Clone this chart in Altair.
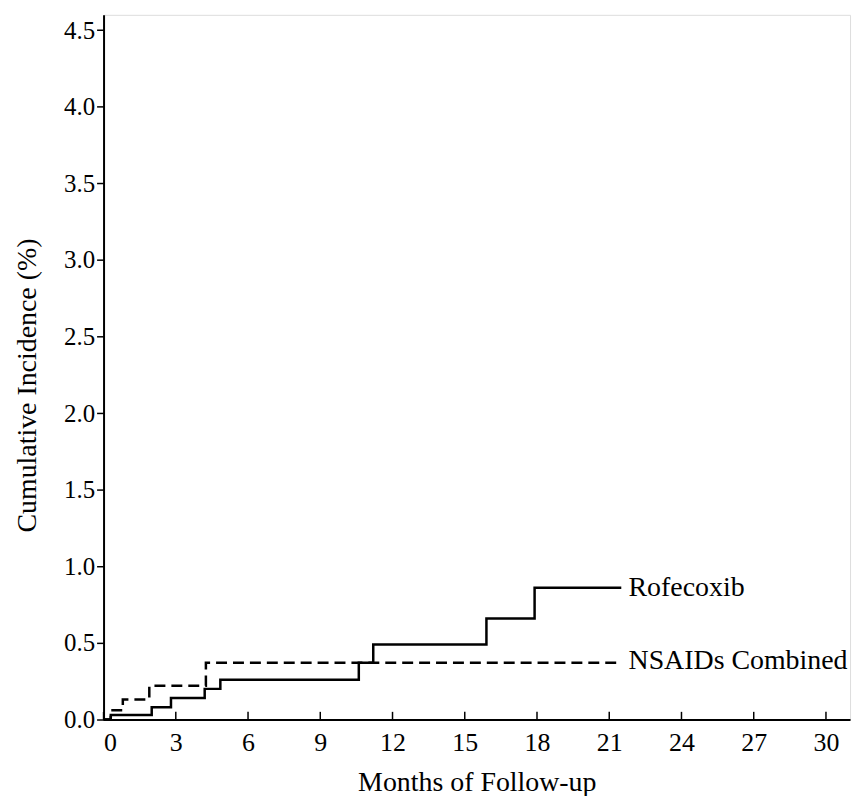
import altair as alt
import pandas as pd

# Data
rofe_months = [0, 0.3, 2.0, 2.8, 4.2, 4.85, 10.6, 11.2, 15.9, 17.9, 21.5]
rofe_inc = [0.0, 0.03, 0.08, 0.14, 0.20, 0.26, 0.37, 0.49, 0.66, 0.86, 0.86]
nsaid_months = [0, 0.3, 0.8, 1.9, 4.25, 21.5]
nsaid_inc = [0.0, 0.06, 0.13, 0.22, 0.37, 0.37]
x_ticks = [0, 3, 6, 9, 12, 15, 18, 21, 24, 27, 30]
y_ticks = [0.0, 0.5, 1.0, 1.5, 2.0, 2.5, 3.0, 3.5, 4.0, 4.5]
label_text = ["Rofecoxib", "NSAIDs Combined"]
label_y = [0.86, 0.38]
label_x = [21.8, 21.8]

FONT = "Liberation Serif"

rofe = pd.DataFrame({"m": rofe_months, "v": rofe_inc})
nsaid = pd.DataFrame({"m": nsaid_months, "v": nsaid_inc})
labels = pd.DataFrame({"m": label_x, "v": label_y, "t": label_text})
xt = pd.DataFrame({"m": x_ticks, "v0": [0.0] * len(x_ticks), "v1": [0.05] * len(x_ticks)})

xs = alt.Scale(domain=[0, 31], nice=False, zero=False)
ys = alt.Scale(domain=[0, 4.6], nice=False)

x_axis = alt.Axis(values=x_ticks, title="Months of Follow-up", grid=False, ticks=False,
                  labelFontSize=26, titleFontSize=28, labelFont=FONT, titleFont=FONT,
                  titleFontWeight="normal", labelColor="black", titleColor="black",
                  domainColor="black", domainWidth=2, labelPadding=10, titlePadding=13)
y_axis = alt.Axis(values=y_ticks, format=".1f", title="Cumulative Incidence (%)", grid=False,
                  tickSize=7, tickColor="black", tickWidth=1.5,
                  labelFontSize=25, titleFontSize=28, labelFont=FONT, titleFont=FONT,
                  titleFontWeight="normal", labelColor="black", titleColor="black",
                  domainColor="black", domainWidth=2, labelPadding=2, titlePadding=22,
                  titleY=372)

rofe_line = alt.Chart(rofe).mark_line(interpolate="step-after", color="black", strokeWidth=2.5).encode(
    x=alt.X("m:Q", scale=xs, axis=x_axis),
    y=alt.Y("v:Q", scale=ys, axis=y_axis),
)
nsaid_line = alt.Chart(nsaid).mark_line(interpolate="step-after", color="black", strokeWidth=2.5,
                                        strokeDash=[11, 6]).encode(
    x=alt.X("m:Q", scale=xs),
    y=alt.Y("v:Q", scale=ys),
)
ticks = alt.Chart(xt).mark_rule(color="black", strokeWidth=1.5).encode(
    x=alt.X("m:Q", scale=xs),
    y=alt.Y("v0:Q", scale=ys),
    y2="v1:Q",
)
text = alt.Chart(labels).mark_text(align="left", baseline="middle", font=FONT, fontSize=28,
                                   color="black").encode(
    x=alt.X("m:Q", scale=xs),
    y=alt.Y("v:Q", scale=ys),
    text="t:N",
)

chart = (rofe_line + nsaid_line + ticks + text).properties(
    width=750, height=708,
    autosize=alt.AutoSizeParams(type="none"),
    padding={"left": 96, "top": 5, "right": 10, "bottom": 75},
).configure_view(stroke=None).configure(background="white")

chart.save("out.html", embed_options={"renderer": "svg", "actions": False})
